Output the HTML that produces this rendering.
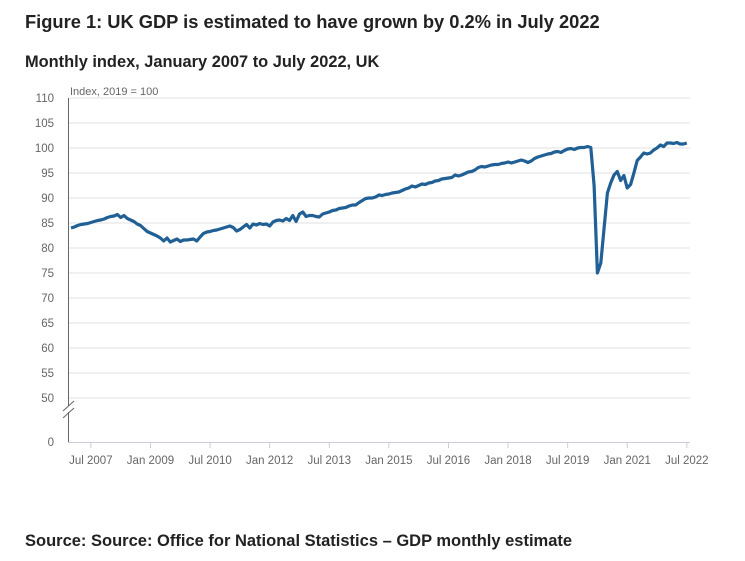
<!DOCTYPE html>
<html><head><meta charset="utf-8"><style>
body{margin:0;background:#fff;font-family:"Liberation Sans",sans-serif;width:745px;height:561px;overflow:hidden;position:relative}
.t{position:absolute;left:25px;color:#222;font-weight:bold}
</style></head><body>
<div class="t" style="top:11px;font-size:18.3px">Figure 1: UK GDP is estimated to have grown by 0.2% in July 2022</div>
<div class="t" style="top:53px;font-size:16.4px">Monthly index, January 2007 to July 2022, UK</div>
<div class="t" style="top:532px;font-size:16.5px">Source: Source: Office for National Statistics – GDP monthly estimate</div>
<svg id="chart" width="745" height="561" style="position:absolute;left:0;top:0"></svg>
<script>
const yTicks=[110,105,100,95,90,85,80,75,70,65,60,55,50];
const xTickLabels=["Jul 2007","Jan 2009","Jul 2010","Jan 2012","Jul 2013","Jan 2015","Jul 2016","Jan 2018","Jul 2019","Jan 2021","Jul 2022"];
const xTickMonths=[6,24,42,60,78,96,114,132,150,168,186];
const gdp=[
84.0,84.2,84.5,84.7,84.8,84.9,85.1,85.3,85.5,85.6,85.8,86.1,
86.3,86.4,86.7,86.1,86.5,85.9,85.6,85.3,84.8,84.5,83.9,83.3,
83.0,82.7,82.4,82.0,81.4,82.0,81.2,81.5,81.8,81.3,81.6,81.6,
81.7,81.8,81.4,82.2,82.9,83.2,83.3,83.5,83.6,83.8,84.0,84.2,
84.4,84.1,83.4,83.7,84.2,84.7,84.0,84.8,84.6,84.9,84.7,84.8,
84.4,85.2,85.5,85.6,85.4,85.9,85.5,86.5,85.3,86.8,87.2,86.3,
86.5,86.5,86.3,86.2,86.8,87.0,87.2,87.5,87.6,87.9,88.0,88.1,
88.4,88.6,88.6,89.1,89.5,89.9,90.0,90.0,90.2,90.6,90.5,90.7,
90.8,91.0,91.1,91.2,91.5,91.8,92.0,92.4,92.2,92.5,92.8,92.7,
93.0,93.1,93.4,93.5,93.8,93.9,94.0,94.1,94.6,94.4,94.6,94.9,
95.2,95.3,95.6,96.1,96.3,96.2,96.4,96.6,96.7,96.7,96.9,97.0,
97.2,97.0,97.2,97.4,97.6,97.4,97.1,97.4,97.9,98.2,98.4,98.6,
98.8,98.9,99.2,99.3,99.1,99.5,99.8,99.9,99.7,100.0,100.1,100.1,
100.3,100.1,92.5,75.0,77.0,84.0,91.0,93.0,94.6,95.3,93.5,94.5,
92.0,92.7,95.0,97.5,98.2,99.0,98.8,99.0,99.6,100.0,100.6,100.3,
101.0,101.0,100.9,101.1,100.8,100.8,101.0];
const svg=document.getElementById('chart');
const NS='http://www.w3.org/2000/svg';
const x=m=>71+m*3.311;
const y=v=>98+(110-v)*5;
function mk(tag,attrs,text){const e=document.createElementNS(NS,tag);for(const k in attrs)e.setAttribute(k,attrs[k]);if(text!==undefined)e.textContent=text;svg.appendChild(e);return e;}
yTicks.forEach(v=>{
  const g=mk('line',{x1:68,x2:690,y1:y(v),y2:y(v),stroke:'#e0e0e0','stroke-width':1});
  
  
  const t=mk('text',{x:54,y:y(v)+4,'text-anchor':'end','font-size':11.5,fill:'#666','font-family':'Liberation Sans, sans-serif'},v);
  
  
});
const zt=mk('text',{x:54,y:446,'text-anchor':'end','font-size':11.5,fill:'#666','font-family':'Liberation Sans, sans-serif'},'0');


const ya=mk('line',{x1:68.5,x2:68.5,y1:98,y2:442,stroke:'#666','stroke-width':1});


const br2=mk('rect',{x:66,y:406,width:5,height:6,fill:'#fff'});


const br=mk('path',{d:'M63,411 L74,401 M63,418 L74,408',stroke:'#666',fill:'none','stroke-width':1});


const xa=mk('line',{x1:68,x2:690,y1:442.5,y2:442.5,stroke:'#ccd','stroke-width':1});


xTickMonths.forEach((m,i)=>{
  const tk=mk('line',{x1:x(m),x2:x(m),y1:442,y2:448,stroke:'#ccd'});
  
  
  const t=mk('text',{x:x(m),y:464,'text-anchor':'middle','font-size':11.5,fill:'#666','font-family':'Liberation Sans, sans-serif'},xTickLabels[i]);
  
  
});
const ul=mk('text',{x:70,y:95,'font-size':11,fill:'#666','font-family':'Liberation Sans, sans-serif'},'Index, 2019 = 100');


const p=mk('path',{d:gdp.map((v,i)=>(i?'L':'M')+x(i).toFixed(1)+','+y(v).toFixed(1)).join(' '),fill:'none',stroke:'#206095','stroke-width':3.2,'stroke-linejoin':'round'});


</script>
</body></html>
